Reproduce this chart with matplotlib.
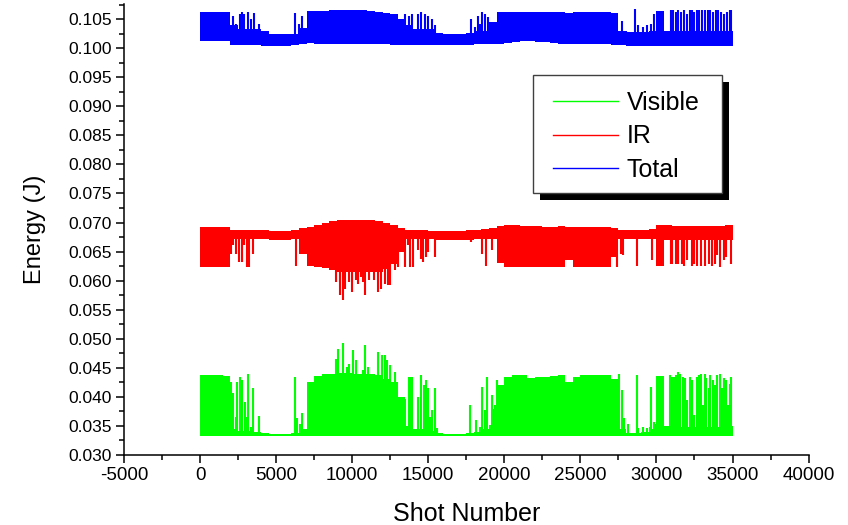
# -*- coding: utf-8 -*-

import numpy as np
import matplotlib
matplotlib.use("Agg")
import matplotlib.pyplot as plt
from matplotlib.lines import Line2D
from matplotlib.patches import Rectangle

plt.rcParams['font.family'] = ['Liberation Sans', 'DejaVu Sans']
plt.rcParams['axes.unicode_minus'] = False

# shot bins, 500 shots wide, start of each bin
shot_bins = np.arange(0, 35000, 500)
shot_end = 35000

# ---- Visible (green): solid core top per bin, floor, and single spikes
vis_floor = 0.0332
vis_hi = [0.0437, 0.0437, 0.0437, 0.0436, 0.0345, 0.0342, 0.0342, 0.0340, 0.0338, 0.0337,
          0.0337, 0.0337, 0.0338, 0.0345, 0.0425, 0.0436, 0.0439, 0.0440, 0.0441, 0.0441,
          0.0440, 0.0440, 0.0439, 0.0437, 0.0430, 0.0425, 0.0400, 0.0350, 0.0345, 0.0345,
          0.0342, 0.0338, 0.0337, 0.0337, 0.0337, 0.0338, 0.0340, 0.0345, 0.0350, 0.0420,
          0.0435, 0.0437, 0.0437, 0.0433, 0.0435, 0.0435, 0.0436, 0.0437, 0.0425, 0.0435,
          0.0437, 0.0437, 0.0437, 0.0437, 0.0430, 0.0345, 0.0338, 0.0338, 0.0340, 0.0345,
          0.0436, 0.0350, 0.0350, 0.0348, 0.0348, 0.0348, 0.0348, 0.0348, 0.0348, 0.0350]
vis_spike_x = [2030, 2150, 2340, 2430, 2620, 2780, 2970, 3040, 3160, 3320, 3510, 3900,
               6270, 6360, 6590, 6710,
               8930, 9100, 9400, 9630, 9820, 10030, 10220, 10690, 10850, 11040,
               11690, 11970, 12160, 12320, 12490, 12790,
               13490, 13720, 13840, 13960, 14310, 14540, 14710, 14820, 14960, 15130,
               15240, 15430, 15590,
               17770, 18170, 18400, 18520, 18700, 18870, 19030, 19170, 19270, 19380, 19500,
               27520, 27750, 27870, 28150, 28690, 28800, 29090, 29390, 29550, 29670,
               29810, 29900,
               30910, 31030, 31140, 31310, 31420, 31560, 31730, 31890, 32030, 32190,
               32360, 32500, 32660, 32780, 32920, 33060, 33180, 33290, 33430, 33550,
               33710, 33850, 33990, 34180, 34300, 34420, 34580, 34700, 34840, 34930]
vis_spike_y = [0.0426, 0.0406, 0.0366, 0.0426, 0.0435, 0.0429, 0.0392, 0.0366, 0.0440, 0.0349,
               0.0415, 0.0367,
               0.0435, 0.0363, 0.0354, 0.0372,
               0.0466, 0.0483, 0.0492, 0.0452, 0.0457, 0.0480, 0.0463, 0.0446, 0.0489, 0.0452,
               0.0478, 0.0472, 0.0472, 0.0463, 0.0455, 0.0443,
               0.0397, 0.0435, 0.0435, 0.0435, 0.0400, 0.0437, 0.0420, 0.0429, 0.0415, 0.0366,
               0.0377, 0.0415, 0.0346,
               0.0386, 0.0360, 0.0349, 0.0417, 0.0377, 0.0435, 0.0352, 0.0403, 0.0380, 0.0386,
               0.0429,
               0.0440, 0.0412, 0.0363, 0.0354, 0.0437, 0.0346, 0.0349, 0.0346, 0.0349, 0.0417,
               0.0357, 0.0354,
               0.0437, 0.0435, 0.0435, 0.0437, 0.0443, 0.0440, 0.0435, 0.0432, 0.0394, 0.0435,
               0.0429, 0.0369, 0.0435, 0.0437, 0.0440, 0.0386, 0.0440, 0.0432, 0.0415, 0.0437,
               0.0429, 0.0420, 0.0437, 0.0440, 0.0415, 0.0432, 0.0429, 0.0386, 0.0423, 0.0435]

# ---- IR (red): core band per bin and downward spikes
ir_hi = [0.0692, 0.0692, 0.0692, 0.0692, 0.0687, 0.0687, 0.0687, 0.0687, 0.0687, 0.0686,
         0.0686, 0.0686, 0.0687, 0.0690, 0.0693, 0.0696, 0.0699, 0.0702, 0.0704, 0.0704,
         0.0704, 0.0704, 0.0704, 0.0702, 0.0699, 0.0695, 0.0690, 0.0687, 0.0687, 0.0687,
         0.0686, 0.0686, 0.0686, 0.0686, 0.0686, 0.0687, 0.0688, 0.0689, 0.0690, 0.0694,
         0.0695, 0.0695, 0.0694, 0.0694, 0.0694, 0.0693, 0.0693, 0.0694, 0.0692, 0.0693,
         0.0693, 0.0693, 0.0693, 0.0692, 0.0690, 0.0688, 0.0688, 0.0688, 0.0688, 0.0689,
         0.0695, 0.0695, 0.0694, 0.0694, 0.0694, 0.0694, 0.0694, 0.0694, 0.0694, 0.0695]
ir_lo = [0.0624, 0.0624, 0.0624, 0.0624, 0.0671, 0.0671, 0.0671, 0.0671, 0.0671, 0.0670,
         0.0670, 0.0670, 0.0671, 0.0645, 0.0625, 0.0624, 0.0622, 0.0618, 0.0615, 0.0615,
         0.0615, 0.0615, 0.0615, 0.0615, 0.0620, 0.0628, 0.0650, 0.0671, 0.0671, 0.0671,
         0.0671, 0.0670, 0.0670, 0.0670, 0.0670, 0.0670, 0.0671, 0.0671, 0.0671, 0.0630,
         0.0624, 0.0624, 0.0624, 0.0624, 0.0624, 0.0624, 0.0624, 0.0624, 0.0635, 0.0624,
         0.0624, 0.0624, 0.0624, 0.0624, 0.0640, 0.0671, 0.0671, 0.0671, 0.0671, 0.0671,
         0.0626, 0.0670, 0.0670, 0.0670, 0.0670, 0.0670, 0.0670, 0.0670, 0.0670, 0.0670]
ir_spike_x = [2030, 2150, 2340, 2550, 2780, 2900, 3090, 3200, 3510, 6310,
              8930, 9170, 9400, 9560, 9800, 9980, 10220, 10400, 10570, 10730,
              10870, 11110, 11320, 11460, 11690, 11900, 12160, 12370, 12510, 12790, 13020,
              13490, 13650, 13770, 14030, 14190, 14310, 14500, 14660, 14820, 14960, 15430,
              17820, 18520, 18800, 18990, 19220,
              27400, 27640, 27800, 28690, 29740,
              30960, 31050, 31260, 31420, 31680, 31840, 32030, 32310, 32500, 32660,
              32940, 33180, 33430, 33620, 33830, 33990, 34180, 34420, 34600, 34930]
ir_spike_y = [0.0646, 0.0661, 0.0646, 0.0632, 0.0632, 0.0661, 0.0624, 0.0624, 0.0646, 0.0626,
              0.0598, 0.0575, 0.0566, 0.0586, 0.0598, 0.0581, 0.0601, 0.0595, 0.0606, 0.0598,
              0.0575, 0.0601, 0.0615, 0.0601, 0.0581, 0.0586, 0.0595, 0.0592, 0.0592, 0.0618,
              0.0624,
              0.0624, 0.0661, 0.0624, 0.0624, 0.0675, 0.0652, 0.0638, 0.0632, 0.0641, 0.0649,
              0.0641,
              0.0667, 0.0646, 0.0626, 0.0675, 0.0652,
              0.0624, 0.0646, 0.0644, 0.0626, 0.0635,
              0.0629, 0.0629, 0.0629, 0.0629, 0.0629, 0.0626, 0.0635, 0.0626, 0.0629, 0.0626,
              0.0626, 0.0626, 0.0629, 0.0626, 0.0629, 0.0644, 0.0624, 0.0635, 0.0641, 0.0629]

# ---- Total (blue): core band per bin and upward spikes
tot_hi = [0.1062, 0.1062, 0.1062, 0.1062, 0.1040, 0.1033, 0.1033, 0.1033, 0.1030, 0.1024,
          0.1024, 0.1024, 0.1024, 0.1035, 0.1064, 0.1064, 0.1064, 0.1065, 0.1065, 0.1065,
          0.1065, 0.1065, 0.1064, 0.1062, 0.1060, 0.1058, 0.1050, 0.1040, 0.1033, 0.1033,
          0.1033, 0.1026, 0.1024, 0.1024, 0.1024, 0.1026, 0.1030, 0.1030, 0.1045, 0.1062,
          0.1062, 0.1062, 0.1062, 0.1062, 0.1062, 0.1062, 0.1062, 0.1062, 0.1060, 0.1062,
          0.1062, 0.1062, 0.1062, 0.1062, 0.1060, 0.1030, 0.1027, 0.1027, 0.1027, 0.1030,
          0.1064, 0.1030, 0.1030, 0.1030, 0.1030, 0.1030, 0.1030, 0.1030, 0.1030, 0.1030]
tot_lo = [0.1012, 0.1012, 0.1012, 0.1012, 0.1006, 0.1005, 0.1005, 0.1005, 0.1004, 0.1003,
          0.1003, 0.1004, 0.1005, 0.1008, 0.1009, 0.1008, 0.1008, 0.1007, 0.1007, 0.1007,
          0.1007, 0.1007, 0.1007, 0.1007, 0.1007, 0.1006, 0.1006, 0.1006, 0.1006, 0.1006,
          0.1005, 0.1005, 0.1005, 0.1005, 0.1005, 0.1006, 0.1007, 0.1007, 0.1007, 0.1008,
          0.1009, 0.1011, 0.1012, 0.1012, 0.1011, 0.1010, 0.1009, 0.1008, 0.1008, 0.1008,
          0.1008, 0.1008, 0.1007, 0.1007, 0.1006, 0.1005, 0.1004, 0.1004, 0.1004, 0.1004,
          0.1004, 0.1004, 0.1004, 0.1004, 0.1004, 0.1004, 0.1004, 0.1004, 0.1004, 0.1004]
tot_spike_x = [2150, 2340, 2620, 2760, 2900, 3160, 3320, 3550, 3900, 6270, 6480, 6710,
               13490, 13720, 13960, 14310, 14540, 14780, 14960, 15240, 15430,
               17820, 18050, 18240, 18400, 18560, 18750, 18940,
               27750, 27990, 28570, 28800, 29090, 29390, 29670, 29860,
               30960, 31100, 31260, 31420, 31610, 31840, 32030, 32190, 32360, 32500,
               32660, 32830, 33010, 33180, 33360, 33530, 33710, 33900, 34070, 34250,
               34420, 34650, 34840, 34930]
tot_spike_y = [0.1056, 0.1042, 0.1059, 0.1062, 0.1059, 0.1062, 0.1050, 0.1060, 0.1042,
               0.1060, 0.1042, 0.1056,
               0.1059, 0.1056, 0.1059, 0.1059, 0.1062, 0.1059, 0.1056, 0.1050, 0.1039,
               0.1050, 0.1036, 0.1056, 0.1042, 0.1062, 0.1059, 0.1053,
               0.1047, 0.1030, 0.1067, 0.1039, 0.1036, 0.1039, 0.1042, 0.1059,
               0.1065, 0.1065, 0.1062, 0.1065, 0.1062, 0.1065, 0.1059, 0.1065, 0.1065, 0.1062,
               0.1065, 0.1065, 0.1066, 0.1065, 0.1065, 0.1066, 0.1062, 0.1065, 0.1065, 0.1062,
               0.1059, 0.1062, 0.1065, 0.1065]

labels = ["Visible", "IR", "Total"]
colors = ["#00ff00", "#ff0000", "#0000ff"]

fig = plt.figure(figsize=(8.48, 5.25), dpi=100)
ax = fig.add_axes([0.1462, 0.1333, 0.9535 - 0.1462, 0.9924 - 0.1333])

xs = np.append(shot_bins, shot_end)


def ext(v):
    return np.append(v, v[-1])


# Visible
ax.fill_between(xs, vis_floor, ext(vis_hi), step='post', color=colors[0], lw=0)
ax.vlines(vis_spike_x, vis_floor, vis_spike_y, color=colors[0], lw=1.5)
# IR
ax.fill_between(xs, ext(ir_lo), ext(ir_hi), step='post', color=colors[1], lw=0)
ax.vlines(ir_spike_x, ir_spike_y, 0.0680, color=colors[1], lw=1.5)
# Total
ax.fill_between(xs, ext(tot_lo), ext(tot_hi), step='post', color=colors[2], lw=0)
ax.vlines(tot_spike_x, 0.1008, tot_spike_y, color=colors[2], lw=1.5)

ax.set_xlim(-5000, 40000)
ax.set_ylim(0.030, 0.1076)
ax.set_xticks(np.arange(-5000, 40001, 5000))
ax.set_xticks(np.arange(-2500, 40000, 5000), minor=True)
ax.set_yticks(np.arange(0.030, 0.1051, 0.005))
ax.set_yticks(np.arange(0.0325, 0.1076, 0.005), minor=True)
ax.set_yticklabels(["%.3f" % v for v in np.arange(0.030, 0.1051, 0.005)])

for side in ["top", "right"]:
    ax.spines[side].set_visible(False)
for side in ["left", "bottom"]:
    ax.spines[side].set_linewidth(1.1)

ax.tick_params(which='major', direction='out', length=6, width=1.1, pad=2.5)
ax.tick_params(which='minor', direction='out', length=3.5, width=1.1)
ax.tick_params(axis='x', labelsize=13.5)
ax.tick_params(axis='y', labelsize=12.5)

ax.set_xlabel("Shot Number", fontsize=18, labelpad=13)
ax.set_ylabel("Energy (J)", fontsize=17, labelpad=16)

# legend frame with a hard black shadow (axes fraction coords)
fx0, fx1, fy0, fy1 = 0.5974, 0.8735, 0.5809, 0.8426
dx, dy = 7 / 684.6, 7 / 451.0
ax.add_patch(Rectangle((fx0 + dx, fy0 - dy), fx1 - fx0, fy1 - fy0,
                       transform=ax.transAxes, facecolor='black',
                       edgecolor='none', zorder=5, clip_on=False))
ax.add_patch(Rectangle((fx0, fy0), fx1 - fx0, fy1 - fy0,
                       transform=ax.transAxes, facecolor='white',
                       edgecolor='#404040', lw=1.0, zorder=5.1, clip_on=False))

handles = [Line2D([], [], color=c, lw=1) for c in colors]
leg = ax.legend(handles, labels, loc='upper left', bbox_to_anchor=(0.6266, 0.807),
                borderaxespad=0, borderpad=0, fontsize=18, frameon=False,
                handlelength=2.6, handletextpad=0.36, labelspacing=0.37)
leg.set_zorder(6)

fig.savefig("out.png", dpi=100)
